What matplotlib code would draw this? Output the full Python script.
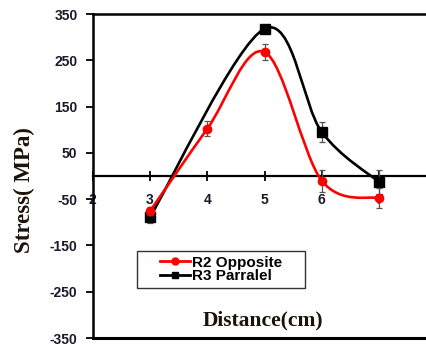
import matplotlib
matplotlib.use("Agg")
import matplotlib.pyplot as plt
from matplotlib.path import Path
from matplotlib.patches import PathPatch
from matplotlib.lines import Line2D
from matplotlib.legend_handler import HandlerLine2D

# values
dist_r2 = [3, 4, 5, 6, 7]
stress_r2 = [-76, 102, 268, -10, -48]
err_r2 = [8, 16, 17, 24, 21]

dist_r3 = [3, 5, 6, 7]
stress_r3 = [-89, 318, 95, -13]
err_r3 = [12, 5, 22, 25]

x_ticks = [2, 3, 4, 5, 6, 7]
y_ticks = [-350, -250, -150, -50, 50, 150, 250, 350]
labels = ["R2 Opposite", "R3 Parralel"]


def smooth_path(xs, ys):
    # Excel-like smoothed line as cubic Bezier segments
    pts = list(zip(xs, ys))
    verts = [pts[0]]
    codes = [Path.MOVETO]
    n = len(pts)
    for i in range(n - 1):
        p0 = pts[i - 1] if i > 0 else pts[i]
        p1 = pts[i]
        p2 = pts[i + 1]
        p3 = pts[i + 2] if i + 2 < n else pts[i + 1]
        c1 = (p1[0] + (p2[0] - p0[0]) / 6, p1[1] + (p2[1] - p0[1]) / 6)
        c2 = (p2[0] - (p3[0] - p1[0]) / 6, p2[1] - (p3[1] - p1[1]) / 6)
        verts += [c1, c2, p2]
        codes += [Path.CURVE4] * 3
    return Path(verts, codes)


fig = plt.figure(figsize=(4.27, 3.45), dpi=100)
ax = fig.add_axes([92.75 / 427, 7 / 345, 343.5 / 427, 324 / 345])

ax.add_patch(PathPatch(smooth_path(dist_r3, stress_r3), fill=False,
                       edgecolor="black", lw=1.9, zorder=3))
ax.add_patch(PathPatch(smooth_path(dist_r2, stress_r2), fill=False,
                       edgecolor="#ff0000", lw=1.9, zorder=4))

ax.errorbar(dist_r3, stress_r3, yerr=err_r3, fmt="s", color="black",
            ms=6.5, ecolor="#555555", elinewidth=0.9, capsize=2.5,
            capthick=0.9, zorder=5)
ax.errorbar(dist_r2, stress_r2, yerr=err_r2, fmt="o", color="#ff0000",
            ms=6, ecolor="#555555", elinewidth=0.9, capsize=2.5,
            capthick=0.9, zorder=6)

ax.set_xlim(2, 8)
ax.set_ylim(-350, 350)

ax.spines["bottom"].set_position(("data", 0))
ax.spines["bottom"].set_linewidth(1.6)
ax.spines["left"].set_linewidth(1.8)
ax.spines["top"].set_linewidth(1.8)
ax.spines["right"].set_visible(False)
ax.axhline(-350, color="black", lw=2.2, clip_on=False, zorder=2)

ax.set_xticks(x_ticks)
ax.set_yticks(y_ticks)
tick_font = dict(family="Liberation Sans", weight="bold", size=10)
ax.set_xticklabels([str(t) for t in x_ticks], fontdict=tick_font,
                   color="#1a1a2a")
ax.set_yticklabels([str(t) for t in y_ticks], fontdict=tick_font,
                   color="#1a1a2a")
ax.tick_params(axis="x", direction="inout", length=7, width=1.3, pad=9)
ax.tick_params(axis="y", direction="out", length=5, width=1.3, pad=6)

fig.text(24 / 427, 1 - 190 / 345, "Stress( MPa)", rotation=90,
         family="Liberation Serif", weight="bold", size=16.5,
         color="#1c1208", ha="center", va="center")
ax.text(0.495, 0.055, "Distance(cm)", transform=ax.transAxes,
        family="Liberation Serif", weight="bold", size=15.5,
        color="#1c1208", ha="center", va="center")

handles = [
    Line2D([], [], color="#ff0000", marker="o", ms=5, lw=2),
    Line2D([], [], color="black", marker="s", ms=5, lw=2),
]
leg = ax.legend(handles, labels, loc="lower left",
                bbox_to_anchor=(137 / 343.5 - 92.75 / 343.5, 50 / 324,
                                168 / 343.5, 37 / 324), mode="expand",
                prop=dict(family="Liberation Sans", weight="bold", size=11),
                handler_map={Line2D: HandlerLine2D(xpad=1.2)},
                frameon=True, fancybox=False, borderaxespad=0,
                handlelength=3.2, handletextpad=0.12, labelspacing=-0.02,
                borderpad=0.3)
leg.get_frame().set_edgecolor("black")
leg.get_frame().set_linewidth(1.0)
leg.set_zorder(10)

fig.savefig("out.png", dpi=100)
